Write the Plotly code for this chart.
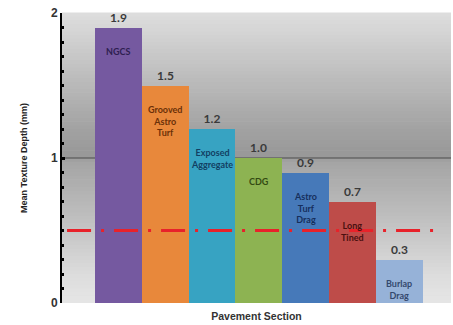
import numpy as np
import plotly.graph_objects as go

# Mean texture depth per pavement section (mm)
sections = ["NGCS", "Grooved<br>Astro<br>Turf", "Exposed<br>Aggregate", "CDG",
            "Astro<br>Turf<br>Drag", "Long<br>Tined", "Burlap<br>Drag"]
depths = [1.9, 1.5, 1.2, 1.0, 0.9, 0.7, 0.3]
threshold = 0.5

bar_colors = ["#7559a0", "#e8883b", "#37a3c2", "#8db352", "#4679b9", "#be4c49", "#96b2d8"]
name_colors = ["#2e2050", "#6a3008", "#123f63", "#344a12", "#162f5c", "#4a1010", "#34496e"]

cats = [f"c{i}" for i in range(len(depths))]

fig = go.Figure()
fig.add_trace(go.Bar(
    x=cats, y=depths,
    marker=dict(color=bar_colors, line=dict(width=0)),
    text=[f"<b>{v:.1f}</b>" for v in depths],
    textposition="outside",
    textfont=dict(family="Lato, Open Sans, sans-serif", size=12, color="#3a3a3a"),
    cliponaxis=False,
    hoverinfo="skip",
))

# bar names written inside the top of each bar
for c, name, v, col in zip(cats, sections, depths, name_colors):
    fig.add_annotation(x=c, y=v, text=f"<b>{name}</b>", showarrow=False,
                       yanchor="top", yshift=-16, align="center",
                       font=dict(family="Lato, Open Sans, sans-serif", size=9, color=col))

# grey background gradient built from thin horizontal bands
stops_v = [0.0, 0.2, 0.6, 0.98, 1.0, 1.02, 1.2, 1.6, 2.0]
stops_g = [230, 220, 190, 164, 154, 152, 162, 192, 222]
shapes = []
n = 80
for i in range(n):
    v0 = 2.0 * i / n
    v1 = 2.0 * (i + 1) / n
    g = int(round(np.interp((v0 + v1) / 2, stops_v, stops_g)))
    shapes.append(dict(type="rect", xref="paper", yref="paper",
                       x0=0, x1=1, y0=v0 / 2, y1=v1 / 2 + 0.002,
                       fillcolor=f"rgb({g},{g},{g})", line=dict(width=0), layer="below"))
# gridline at 1 mm
shapes.append(dict(type="line", xref="paper", yref="y", x0=0, x1=1, y0=1, y1=1,
                   line=dict(color="#4a4a4a", width=1), layer="below"))
# reference depth line
shapes.append(dict(type="line", xref="paper", yref="y", x0=0.013, x1=0.955,
                   y0=threshold, y1=threshold,
                   line=dict(color="#e8222a", width=3, dash="24px,10px,3px,10px"),
                   layer="above"))

fig.update_layout(
    width=453, height=325,
    margin=dict(l=62, r=2, t=13, b=22),
    paper_bgcolor="white", plot_bgcolor="#d0d0d0",
    bargap=0, showlegend=False,
    shapes=shapes,
    xaxis=dict(range=[-1.2, 7.1], showticklabels=False, ticks="", showgrid=False,
               zeroline=False, showline=False,
               title=dict(text="<b>Pavement Section</b>", standoff=9,
                          font=dict(family="Liberation Sans, Arial", size=10.5, color="#333"))),
    yaxis=dict(range=[0, 2], tickmode="linear", tick0=0, dtick=1,
               tickfont=dict(family="Liberation Sans, Arial", size=12, color="#333", weight="bold"),
               showgrid=False, zeroline=False,
               showline=True, linecolor="black", linewidth=2,
               ticks="inside", ticklen=3, tickwidth=3, tickcolor="black",
               minor=dict(dtick=0.1, ticks="inside", ticklen=2, tickwidth=2.5,
                          tickcolor="black"),
               title=dict(text="<b>Mean Texture Depth (mm)</b>", standoff=22,
                          font=dict(family="Liberation Sans, Arial", size=9, color="#222"))),
)

fig.write_html("out.html")
